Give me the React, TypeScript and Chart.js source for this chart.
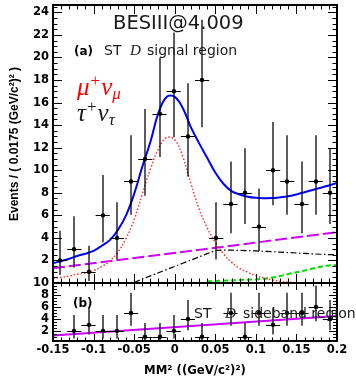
import React, { useEffect, useRef } from "react";
import { Chart, registerables } from "chart.js";
Chart.register(...registerables);

// ---------- data ----------
const binCenters = [
  -0.14125, -0.12375, -0.10625, -0.08875, -0.07125, -0.05375, -0.03625, -0.01875, -0.00125, 0.01625,
  0.03375, 0.05125, 0.06875, 0.08625, 0.10375, 0.12125, 0.13875, 0.15625, 0.17375, 0.19125,
];
const binHalfWidth = 0.00875;

const topCounts = [2, 3, 1, 6, 4, 9, 11, 15, 17, 13, 18, 4, 7, 8, 5, 10, 9, 7, 9, 8];
const topErrLow = [1.29, 1.63, 0.83, 2.38, 1.91, 2.94, 3.27, 3.83, 4.08, 3.56, 4.2, 1.91, 2.58, 2.77, 2.16, 3.11, 2.94, 2.58, 2.94, 2.77];
const topErrHigh = [2.64, 2.92, 2.3, 3.58, 3.16, 4.11, 4.42, 4.97, 5.22, 4.71, 5.34, 3.16, 3.77, 3.95, 3.38, 4.27, 4.11, 3.77, 4.11, 3.95];

const bottomCounts = [null, 2, 3, 2, 2, 5, 1, 1, 2, 4, 1, null, 5, 1, 5, 3, 5, 5, 6, 4];
const bottomErrLow = [null, 1.29, 1.63, 1.29, 1.29, 2.16, 0.83, 0.83, 1.29, 1.91, 0.83, null, 2.16, 0.83, 2.16, 1.63, 2.16, 2.16, 2.38, 1.91];
const bottomErrHigh = [null, 2.64, 2.92, 2.64, 2.64, 3.38, 2.3, 2.3, 2.64, 3.16, 2.3, null, 3.38, 2.3, 3.38, 2.92, 3.38, 3.38, 3.58, 3.16];

const curveX = [
  -0.15, -0.14, -0.13, -0.12, -0.11, -0.1, -0.09, -0.08, -0.07, -0.06, -0.05, -0.04, -0.03, -0.02, -0.01, 0,
  0.01, 0.02, 0.03, 0.04, 0.05, 0.06, 0.07, 0.08, 0.09, 0.1, 0.11, 0.12, 0.13, 0.14, 0.15, 0.16, 0.17, 0.18, 0.19, 0.2,
];
const totalFit = [
  1.75, 1.95, 2.15, 2.4, 2.6, 2.85, 3.3, 3.8, 4.7, 6.0, 7.9, 10.3, 12.5, 15.1, 16.5, 16.5,
  15.5, 13.8, 12.4, 11.1, 9.8, 8.8, 8.15, 7.85, 7.65, 7.55, 7.52, 7.53, 7.6, 7.7, 7.85, 8.05, 8.25, 8.45, 8.65, 8.86,
];
const muNuSignal = [
  0.4, 0.5, 0.62, 0.78, 0.9, 1.1, 1.45, 1.95, 2.75, 3.95, 5.6, 7.9, 10.1, 11.9, 12.9, 12.7,
  11.2, 8.8, 6.6, 4.9, 3.6, 2.6, 1.85, 1.3, 0.95, 0.65, 0.45, 0.28, 0.15, 0.07, 0.02, null, null, null, null, null,
];
const tauNu = [
  null, null, null, null, null, null, null, null, null, null, 0.05, 0.35, 0.63, 0.91, 1.19, 1.47,
  1.75, 2.03, 2.31, 2.6, 2.88, 2.92, 2.91, 2.89, 2.87, 2.84, 2.81, 2.78, 2.74, 2.7, 2.66, 2.62, 2.58, 2.55, 2.52, 2.5,
];
const peakingBkg = [
  null, null, null, null, null, null, null, null, null, null, null, null, null, null, null, null,
  null, null, null, 0.15, 0.18, 0.2, 0.23, 0.27, 0.29, 0.32, 0.38, 0.48, 0.62, 0.8, 0.95, 1.1, 1.28, 1.45, 1.55, 1.6,
];
const lineBkgX = [-0.15, 0.2];
const lineBkgTop = [1.3, 4.5];
const lineBkgBottom = [1.2, 4.5];

const xTickValues = [-0.15, -0.1, -0.05, 0, 0.05, 0.1, 0.15, 0.2];
const xTickLabels = ["-0.15", "-0.1", "-0.05", "0", "0.05", "0.1", "0.15", "0.2"];
const topYTicks = [2, 4, 6, 8, 10, 12, 14, 16, 18, 20, 22, 24];
const bottomYTicks = [2, 4, 6, 8, 10];

// ---------- helpers ----------
const toXY = (xs: number[], ys: (number | null)[]) => xs.map((x, i) => ({ x, y: ys[i] }));
const tickFont = { family: '"DejaVu Sans"', weight: "bold" as const, size: 11.5 };
const noPad = (s: any) => {
  s.paddingTop = 0;
  s.paddingBottom = 0;
  s.paddingLeft = 0;
  s.paddingRight = 0;
};

const errorBarPlugin = {
  id: "errbars",
  afterDatasetsDraw(chart: any) {
    const { ctx, chartArea: a, scales } = chart;
    const xs = scales.x;
    const ys = scales.y;
    ctx.save();
    ctx.beginPath();
    ctx.rect(a.left, a.top, a.right - a.left, a.bottom - a.top);
    ctx.clip();
    chart.data.datasets.forEach((ds: any) => {
      if (!ds.errLow) return;
      ds.data.forEach((p: any, i: number) => {
        if (p.y == null) return;
        const px = Math.round(xs.getPixelForValue(p.x));
        const py = ys.getPixelForValue(p.y);
        const yl = ys.getPixelForValue(p.y - ds.errLow[i]);
        const yh = ys.getPixelForValue(p.y + ds.errHigh[i]);
        const xl = xs.getPixelForValue(p.x - binHalfWidth);
        const xr = xs.getPixelForValue(p.x + binHalfWidth);
        ctx.strokeStyle = "rgba(0,0,0,0.85)";
        ctx.lineWidth = 1.5;
        ctx.beginPath();
        ctx.moveTo(px, yl);
        ctx.lineTo(px, yh);
        ctx.stroke();
        ctx.strokeStyle = "#000";
        ctx.lineWidth = 1;
        const yy = Math.round(py) + 0.5;
        ctx.beginPath();
        ctx.moveTo(xl, yy);
        ctx.lineTo(xr, yy);
        ctx.stroke();
        ctx.fillStyle = "#000";
        ctx.beginPath();
        ctx.arc(px, py, 2.2, 0, Math.PI * 2);
        ctx.fill();
      });
    });
    ctx.restore();
  },
};

const framePlugin = {
  id: "frame",
  afterDraw(chart: any, _args: any, o: any) {
    const { ctx, chartArea: a, scales } = chart;
    const x = scales.x;
    const y = scales.y;
    ctx.save();
    ctx.strokeStyle = "#000";
    ctx.lineWidth = 1;
    ctx.beginPath();
    for (let k = -15; k <= 20; k++) {
      const px = Math.round(x.getPixelForValue(k / 100)) + 0.5;
      const len = k % 5 === 0 ? o.xMajor : o.xMinor;
      ctx.moveTo(px, a.top);
      ctx.lineTo(px, a.top + len);
      ctx.moveTo(px, a.bottom);
      ctx.lineTo(px, a.bottom - len);
    }
    for (let k = 0; k * 0.5 <= y.max; k++) {
      const v = k * 0.5;
      if (v < y.min) continue;
      const py = Math.round(y.getPixelForValue(v)) + 0.5;
      const len = k % 4 === 0 ? o.yMajor : o.yMinor;
      ctx.moveTo(a.left, py);
      ctx.lineTo(a.left + len, py);
      ctx.moveTo(a.right, py);
      ctx.lineTo(a.right - len, py);
    }
    ctx.stroke();
    ctx.lineWidth = 2;
    ctx.strokeRect(a.left, a.top, a.right - a.left, a.bottom - a.top);
    ctx.restore();
  },
};

type Run = { t: string; f: string; dx?: number; dy?: number };
function drawRuns(ctx: CanvasRenderingContext2D, x: number, y: number, color: string, runs: Run[]) {
  ctx.save();
  ctx.fillStyle = color;
  ctx.textAlign = "left";
  ctx.textBaseline = "alphabetic";
  let cx = x;
  for (const r of runs) {
    ctx.font = r.f;
    cx += r.dx || 0;
    ctx.fillText(r.t, cx, y + (r.dy || 0));
    cx += ctx.measureText(r.t).width;
  }
  ctx.restore();
}

const mathBig = 'italic 25px "Liberation Serif"';
const mathSup = '17px "Liberation Serif"';
const mathSub = 'italic 17px "Liberation Serif"';
const labelFont = '14px "DejaVu Sans"';
const italicD = 'italic 15px "Liberation Serif"';
const panelFont = 'bold 12px "DejaVu Sans"';

const topTextPlugin = {
  id: "topText",
  afterDraw(chart: any) {
    const ctx = chart.ctx as CanvasRenderingContext2D;
    ctx.save();
    ctx.textAlign = "left";
    ctx.textBaseline = "alphabetic";
    ctx.fillStyle = "#1a1a1a";
    ctx.font = '19.5px "DejaVu Sans"';
    ctx.fillText("BESIII@4.009", 113, 28.5);
    ctx.fillStyle = "#000";
    ctx.font = panelFont;
    ctx.fillText("(a)", 74, 55);
    ctx.fillStyle = "#1a1a1a";
    ctx.font = labelFont;
    ctx.fillText("ST", 104, 55);
    ctx.font = italicD;
    ctx.fillText("D", 130, 55);
    ctx.font = labelFont;
    ctx.fillText("signal region", 147, 55);
    ctx.restore();
    drawRuns(ctx, 77, 95, "#ff0000", [
      { t: "μ", f: mathBig },
      { t: "+", f: mathSup, dy: -9, dx: 1 },
      { t: "ν", f: mathBig, dx: 1 },
      { t: "μ", f: mathSub, dy: 4 },
    ]);
    drawRuns(ctx, 77, 121, "#1a1a1a", [
      { t: "τ", f: mathBig },
      { t: "+", f: mathSup, dy: -9, dx: 1 },
      { t: "ν", f: mathBig, dx: 1 },
      { t: "τ", f: mathSub, dy: 4 },
    ]);
  },
};

const bottomTextPlugin = {
  id: "bottomText",
  afterDraw(chart: any) {
    const ctx = chart.ctx as CanvasRenderingContext2D;
    ctx.save();
    ctx.textAlign = "left";
    ctx.textBaseline = "alphabetic";
    ctx.fillStyle = "#000";
    ctx.font = panelFont;
    ctx.fillText("(b)", 73, 307);
    ctx.fillStyle = "#1a1a1a";
    ctx.font = labelFont;
    ctx.fillText("ST", 194, 318);
    ctx.font = italicD;
    ctx.fillText("D", 225, 318);
    ctx.font = labelFont;
    ctx.fillText("sideband region", 243, 318);
    ctx.restore();
  },
};

function topConfig(): any {
  return {
    type: "line",
    data: {
      datasets: [
        { data: toXY(binCenters, topCounts), showLine: false, pointRadius: 0, errLow: topErrLow, errHigh: topErrHigh },
        { data: toXY(curveX, totalFit), borderColor: "#0000ff", borderWidth: 2, pointRadius: 0, tension: 0.4, clip: 0 },
        { data: toXY(curveX, muNuSignal), borderColor: "#ff3030", borderWidth: 1.5, borderDash: [1.5, 2], pointRadius: 0, tension: 0.4, clip: 0 },
        { data: toXY(curveX, tauNu), borderColor: "#000", borderWidth: 1.2, borderDash: [6, 2.5, 1.5, 2.5], pointRadius: 0, tension: 0, clip: 0 },
        { data: toXY(curveX, peakingBkg), borderColor: "#00e000", borderWidth: 2, borderDash: [5, 3], pointRadius: 0, tension: 0.4, clip: 0 },
        { data: toXY(lineBkgX, lineBkgTop), borderColor: "#cc00ff", borderWidth: 2, borderDash: [12, 4], pointRadius: 0, tension: 0, clip: 0 },
      ],
    },
    options: {
      responsive: false,
      animation: false,
      events: [],
      layout: { padding: { left: 0, right: 19, top: 5, bottom: 96 } },
      plugins: {
        legend: { display: false },
        tooltip: { enabled: false },
        frame: { xMajor: 9, xMinor: 4.5, yMajor: 9, yMinor: 4.5 },
      },
      scales: {
        x: { type: "linear", min: -0.15, max: 0.2, display: false, afterFit: noPad },
        y: {
          type: "linear",
          min: 0,
          max: 24.65,
          afterFit: (s: any) => {
            s.width = 53;
            noPad(s);
          },
          afterBuildTicks: (s: any) => {
            s.ticks = topYTicks.map((v) => ({ value: v }));
          },
          grid: { display: false, drawTicks: false },
          border: { display: false },
          ticks: { font: tickFont, color: "#000", padding: 4, autoSkip: false },
          title: {
            display: true,
            text: "Events / ( 0.0175 (GeV/c²)² )",
            font: { family: '"Liberation Sans"', weight: "bold", size: 12 },
            color: "#000",
            padding: { top: 7, bottom: 0 },
          },
        },
      },
    },
    plugins: [errorBarPlugin, framePlugin, topTextPlugin],
  };
}

function bottomConfig(): any {
  return {
    type: "line",
    data: {
      datasets: [
        { data: toXY(binCenters, bottomCounts), showLine: false, pointRadius: 0, errLow: bottomErrLow, errHigh: bottomErrHigh },
        { data: toXY(lineBkgX, lineBkgBottom), borderColor: "#cc00ff", borderWidth: 2, pointRadius: 0, tension: 0, clip: 0 },
      ],
    },
    options: {
      responsive: false,
      animation: false,
      events: [],
      layout: { padding: { left: 0, right: 19, top: 283, bottom: 0 } },
      plugins: {
        legend: { display: false },
        tooltip: { enabled: false },
        frame: { xMajor: 7, xMinor: 3.5, yMajor: 8, yMinor: 4 },
      },
      scales: {
        x: {
          type: "linear",
          min: -0.15,
          max: 0.2,
          afterBuildTicks: (s: any) => {
            s.ticks = xTickValues.map((v) => ({ value: v }));
          },
          afterFit: (s: any) => {
            s.height = 38;
            noPad(s);
          },
          grid: { display: false, drawTicks: false },
          border: { display: false },
          ticks: {
            font: tickFont,
            color: "#000",
            padding: 2,
            maxRotation: 0,
            autoSkip: false,
            callback: (_v: any, i: number) => xTickLabels[i],
          },
          title: {
            display: true,
            text: "MM² ((GeV/c²)²)",
            font: { family: '"DejaVu Sans"', weight: "bold", size: 11.7 },
            color: "#000",
            padding: { top: 0, bottom: 1 },
          },
        },
        y: {
          type: "linear",
          min: 0.3,
          max: 10,
          afterFit: (s: any) => {
            s.width = 53;
            noPad(s);
          },
          afterBuildTicks: (s: any) => {
            s.ticks = bottomYTicks.map((v) => ({ value: v }));
          },
          grid: { display: false, drawTicks: false },
          border: { display: false },
          ticks: { font: tickFont, color: "#000", padding: 4, autoSkip: false },
        },
      },
    },
    plugins: [errorBarPlugin, framePlugin, bottomTextPlugin],
  };
}

export default function App() {
  const topRef = useRef<HTMLCanvasElement>(null);
  const botRef = useRef<HTMLCanvasElement>(null);
  useEffect(() => {
    const c1 = new Chart(topRef.current as HTMLCanvasElement, topConfig());
    const c2 = new Chart(botRef.current as HTMLCanvasElement, bottomConfig());
    return () => {
      c1.destroy();
      c2.destroy();
    };
  }, []);
  return (
    <div style={{ position: "fixed", left: 0, top: 0, width: 356, height: 379, background: "#fff" }}>
      <canvas ref={topRef} width={356} height={379} style={{ position: "absolute", left: 0, top: 0 }} />
      <canvas ref={botRef} width={356} height={379} style={{ position: "absolute", left: 0, top: 0 }} />
    </div>
  );
}
